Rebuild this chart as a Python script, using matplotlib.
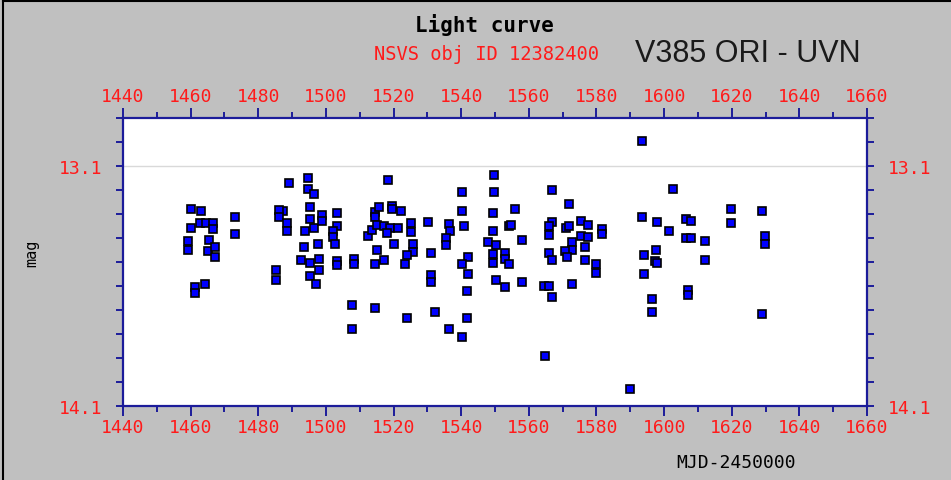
import matplotlib
matplotlib.use("Agg")
import matplotlib.pyplot as plt
from matplotlib.ticker import MultipleLocator, FixedLocator, NullFormatter
from matplotlib.lines import Line2D

# MJD-2450000 and magnitude
mjd = [
    1460.2, 1463.1, 1462.9, 1464.4, 1466.5, 1466.5, 1460.2, 1459.1, 1459.1, 1465.3,
    1465.0, 1467.1, 1467.1, 1461.4, 1461.4, 1464.3, 1473.2, 1473.2, 1489.1, 1487.2,
    1486.2, 1486.2, 1488.5, 1488.5, 1485.1, 1485.1, 1494.7, 1494.7, 1496.4, 1495.4,
    1495.4, 1496.4, 1498.7, 1498.7, 1493.7, 1503.2, 1503.2, 1502.0, 1502.0, 1502.8,
    1497.6, 1493.6, 1492.5, 1495.4, 1498.1, 1498.1, 1495.2, 1497.1, 1503.2, 1503.2,
    1508.2, 1508.2, 1507.7, 1507.7, 1512.5, 1513.5, 1514.6, 1515.6, 1514.6, 1515.1,
    1518.5, 1519.5, 1519.5, 1522.2, 1517.1, 1519.0, 1521.3, 1518.0, 1525.2, 1525.2,
    1515.1, 1520.0, 1525.9, 1525.9, 1523.9, 1517.3, 1514.4, 1523.4, 1514.5, 1523.9,
    1530.2, 1531.2, 1531.2, 1531.2, 1532.4, 1536.3, 1536.8, 1535.6, 1535.6, 1536.3,
    1540.3, 1540.3, 1540.8, 1542.0, 1540.2, 1542.0, 1541.8, 1541.8, 1540.3, 1549.8,
    1549.8, 1549.3, 1549.3, 1548.0, 1550.2, 1549.3, 1549.3, 1553.0, 1553.0, 1554.1,
    1555.8, 1554.0, 1554.8, 1558.0, 1550.2, 1553.0, 1558.0, 1567.0, 1572.0, 1567.0,
    1565.9, 1565.9, 1565.9, 1567.0, 1564.6, 1565.9, 1567.0, 1564.9, 1571.0, 1572.0,
    1575.3, 1577.6, 1575.3, 1577.6, 1572.7, 1572.7, 1570.7, 1571.4, 1576.6, 1576.6,
    1581.5, 1581.5, 1580.0, 1580.0, 1572.7, 1593.4, 1602.5, 1593.4, 1597.9, 1601.4,
    1606.4, 1608.1, 1606.4, 1608.1, 1612.1, 1612.1, 1619.9, 1619.9, 1628.9, 1629.9,
    1629.9, 1594.0, 1597.5, 1597.4, 1598.0, 1594.0, 1596.4, 1596.4, 1607.0, 1607.0,
    1628.9, 1590.0,
]
mag = [
    13.279, 13.289, 13.337, 13.337, 13.337, 13.362, 13.359, 13.414, 13.449, 13.408,
    13.454, 13.438, 13.479, 13.603, 13.631, 13.590, 13.311, 13.383, 13.169, 13.286,
    13.283, 13.314, 13.337, 13.369, 13.534, 13.573, 13.152, 13.197, 13.217, 13.272,
    13.321, 13.358, 13.304, 13.330, 13.369, 13.297, 13.351, 13.369, 13.397, 13.424,
    13.424, 13.438, 13.493, 13.503, 13.489, 13.534, 13.559, 13.590, 13.496, 13.514,
    13.486, 13.507, 13.679, 13.780, 13.390, 13.368, 13.290, 13.272, 13.314, 13.344,
    13.159, 13.266, 13.279, 13.289, 13.348, 13.358, 13.358, 13.380, 13.337, 13.377,
    13.448, 13.427, 13.427, 13.459, 13.472, 13.493, 13.510, 13.510, 13.693, 13.732,
    13.334, 13.463, 13.555, 13.583, 13.710, 13.341, 13.369, 13.401, 13.431, 13.780,
    13.208, 13.289, 13.348, 13.479, 13.510, 13.551, 13.621, 13.732, 13.813, 13.139,
    13.210, 13.297, 13.369, 13.417, 13.431, 13.466, 13.503, 13.461, 13.486, 13.510,
    13.279, 13.352, 13.344, 13.408, 13.573, 13.606, 13.583, 13.201, 13.259, 13.334,
    13.352, 13.386, 13.463, 13.493, 13.599, 13.599, 13.645, 13.893, 13.358, 13.351,
    13.328, 13.344, 13.390, 13.397, 13.417, 13.449, 13.454, 13.479, 13.438, 13.493,
    13.362, 13.383, 13.510, 13.544, 13.590, 12.994, 13.194, 13.311, 13.334, 13.369,
    13.321, 13.328, 13.399, 13.399, 13.414, 13.493, 13.279, 13.337, 13.289, 13.390,
    13.424, 13.470, 13.448, 13.496, 13.503, 13.551, 13.654, 13.710, 13.617, 13.638,
    13.718, 14.028,
]

x_ticks = [1440, 1460, 1480, 1500, 1520, 1540, 1560, 1580, 1600, 1620, 1640, 1660]
y_ticks = [13.1, 14.1]
y_ticklabels = ["13.1", "14.1"]

title = "Light curve"
subtitle = "NSVS obj ID 12382400"
star = "V385 ORI - UVN"
xlabel = "MJD-2450000"
ylabel = "mag"

W, H = 951, 481
BG = "#c0c0c0"
SPINE = "#1c1c9a"
RED = "#ff1a1a"
MONO = "DejaVu Sans Mono"

fig = plt.figure(figsize=(W / 100, H / 100), dpi=100, facecolor=BG)
ax = fig.add_axes([123 / W, (H - 407) / H, 744 / W, 288 / H])
ax.set_facecolor("white")

ax.axhline(13.1, color="#d9d9d9", lw=1.0, zorder=1)
ax.plot(mjd, mag, linestyle="none", marker="s", markersize=5.2,
        markerfacecolor="#0000ff", markeredgecolor="black", markeredgewidth=1.2,
        zorder=3)

ax.set_xlim(1440, 1660)
ax.set_ylim(14.1, 12.9)

for s in ax.spines.values():
    s.set_color(SPINE)
    s.set_linewidth(1.6)

ax.xaxis.set_major_locator(FixedLocator(x_ticks))
ax.xaxis.set_minor_locator(MultipleLocator(10))
ax.yaxis.set_major_locator(FixedLocator(y_ticks))
ax.set_yticklabels(y_ticklabels)
ax.yaxis.set_minor_locator(MultipleLocator(0.1))
ax.yaxis.set_minor_formatter(NullFormatter())

ax.tick_params(axis="x", which="both", direction="out", colors=SPINE,
               labelcolor=RED, top=True, bottom=True, labeltop=True,
               labelbottom=True, width=1.4)
ax.tick_params(axis="x", which="major", length=7, pad=2)
ax.tick_params(axis="x", which="minor", length=4.5)
ax.tick_params(axis="y", which="both", direction="out", colors=SPINE,
               labelcolor=RED, left=True, right=True, labelleft=True,
               labelright=True, width=1.4, length=5, pad=10)

for lab in ax.get_xticklabels() + ax.get_yticklabels():
    lab.set_fontfamily(MONO)
    lab.set_fontsize(13)

fig.text(484 / W, 1 - 25 / H, title, ha="center", va="center",
         fontfamily=MONO, fontweight="bold", fontsize=15, color="black")
fig.text(486 / W, 1 - 55 / H, subtitle, ha="center", va="center",
         fontfamily=MONO, fontsize=13.5, color=RED)
fig.text(635 / W, 1 - 54 / H, star, ha="left", va="center",
         fontfamily="Liberation Sans", fontsize=22, color="#1a1a1a")
fig.text(736 / W, 1 - 463 / H, xlabel, ha="center", va="center",
         fontfamily=MONO, fontsize=13, color="black")
fig.text(32 / W, 1 - 253 / H, ylabel, ha="center", va="center", rotation=90,
         fontfamily=MONO, fontsize=11, color="black")

# outer frame (left and top edges visible in reference)
fig.add_artist(Line2D([3 / W, 3 / W], [0, 1 - 2 / H], color="black", lw=1.5,
                      transform=fig.transFigure))
fig.add_artist(Line2D([3 / W, 1], [1 - 2 / H, 1 - 2 / H], color="black", lw=1.5,
                      transform=fig.transFigure))

fig.savefig("out.png", dpi=100, facecolor=BG)
